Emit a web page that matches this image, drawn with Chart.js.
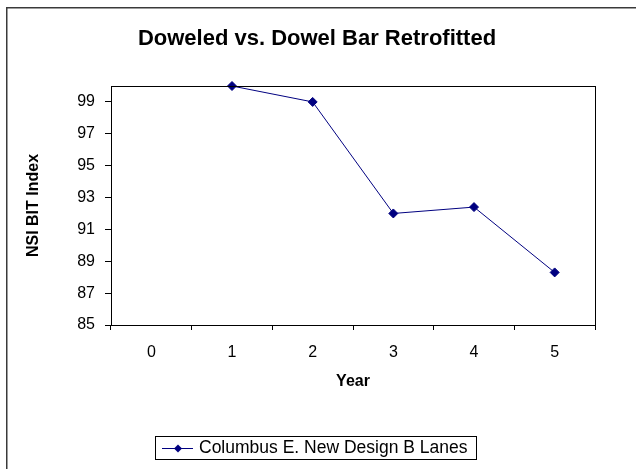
<!DOCTYPE html>
<html>
<head>
<meta charset="utf-8">
<script src="https://cdn.jsdelivr.net/npm/chart.js@4/dist/chart.umd.min.js"></script>
<style>
html,body{margin:0;padding:0;background:#fff;overflow:hidden;}
#wrap{position:relative;width:636px;height:469px;}
</style>
</head>
<body>
<div id="wrap"><canvas id="c" width="636" height="469"></canvas></div>
<script>
const chartTitle = 'Doweled vs. Dowel Bar Retrofitted';
const xTitle = 'Year';
const yTitle = 'NSI BIT Index';
const years = ['0', '1', '2', '3', '4', '5'];
const seriesName = 'Columbus E. New Design B Lanes';
const nsiValues = [null, 100, 99, 92, 92.4, 88.3];
const yMin = 85, yMax = 100, yStep = 2;

const FONT = '"Liberation Sans", Arial, sans-serif';
const NAVY = '#000080';

const decor = {
  id: 'decor',
  afterDraw(chart) {
    const ctx = chart.ctx;
    const a = chart.chartArea;
    ctx.save();
    // outer chart border
    ctx.strokeStyle = '#3a3a3a';
    ctx.lineWidth = 1.5;
    ctx.strokeRect(6.75, 7.75, 700, 700);
    // plot area border
    ctx.strokeStyle = '#000';
    ctx.lineWidth = 1;
    ctx.strokeRect(Math.round(a.left) + 0.5, Math.round(a.top) + 0.5, Math.round(a.right - a.left), Math.round(a.bottom - a.top));
    // title
    ctx.fillStyle = '#000';
    ctx.font = 'bold 22px ' + FONT;
    ctx.textAlign = 'center';
    ctx.textBaseline = 'middle';
    ctx.fillText(chartTitle, 317, 39);
    // x title
    ctx.font = 'bold 16px ' + FONT;
    ctx.fillText(xTitle, (a.left + a.right) / 2, 382);
    // y title
    ctx.save();
    ctx.translate(34, (a.top + a.bottom) / 2);
    ctx.rotate(-Math.PI / 2);
    ctx.fillText(yTitle, 0, 0);
    ctx.restore();
    // legend
    const ds = chart.data.datasets[0];
    ctx.strokeStyle = '#000';
    ctx.lineWidth = 1;
    ctx.strokeRect(155.5, 436.5, 321, 23);
    ctx.strokeStyle = ds.borderColor;
    ctx.beginPath();
    ctx.moveTo(162, 448.5);
    ctx.lineTo(193, 448.5);
    ctx.stroke();
    ctx.fillStyle = ds.pointBackgroundColor;
    ctx.beginPath();
    const cx = 178, cy = 448.5, r = 4;
    ctx.moveTo(cx, cy - r); ctx.lineTo(cx + r, cy); ctx.lineTo(cx, cy + r); ctx.lineTo(cx - r, cy);
    ctx.closePath();
    ctx.fill();
    ctx.fillStyle = '#000';
    ctx.font = '17.5px ' + FONT;
    ctx.textAlign = 'left';
    ctx.textBaseline = 'middle';
    ctx.fillText(ds.label, 199, 448.5);
    ctx.restore();
  }
};

new Chart(document.getElementById('c'), {
  type: 'line',
  data: {
    labels: years,
    datasets: [{
      label: seriesName,
      data: nsiValues,
      borderColor: NAVY,
      backgroundColor: NAVY,
      pointBackgroundColor: NAVY,
      pointBorderColor: NAVY,
      borderWidth: 1,
      pointStyle: 'rectRot',
      pointRadius: 4.5,
      pointHoverRadius: 4.5,
      tension: 0,
      clip: false,
      spanGaps: false
    }]
  },
  options: {
    responsive: false,
    animation: false,
    events: [],
    layout: { padding: { left: 0, top: 86, right: 41, bottom: 0 } },
    plugins: { legend: { display: false }, title: { display: false }, tooltip: { enabled: false } },
    scales: {
      x: {
        type: 'category',
        offset: true,
        grid: { offset: true, drawOnChartArea: false, drawTicks: true, tickLength: 5, color: '#000', lineWidth: 1 },
        border: { color: '#000', width: 1 },
        ticks: { color: '#000', font: { family: FONT, size: 16 }, padding: 13, maxRotation: 0 },
        afterFit(s) { s.height = 144; }
      },
      y: {
        min: yMin, max: yMax, bounds: 'data',
        grid: { drawOnChartArea: false, drawTicks: true, tickLength: 6, color: '#000', lineWidth: 1 },
        border: { color: '#000', width: 1 },
        ticks: { stepSize: yStep, color: '#000', font: { family: FONT, size: 16 }, padding: 10 },
        afterBuildTicks(s) { s.ticks = s.ticks.filter(t => (t.value - yMin) % yStep === 0); },
        afterFit(s) { s.width = 111; }
      }
    }
  },
  plugins: [decor]
});
</script>
</body>
</html>
